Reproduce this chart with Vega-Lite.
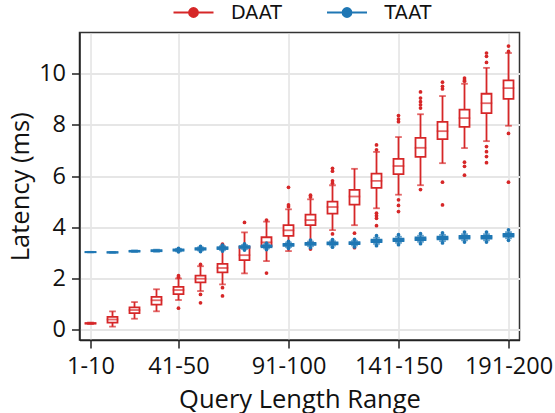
{
  "$schema": "https://vega.github.io/schema/vega-lite/v6.json",
  "width": 440,
  "height": 307.5,
  "autosize": {"type": "none"},
  "padding": {"left": 79.5, "top": 32.5, "right": 35.5, "bottom": 73},
  "background": "white",
  "config": {
    "view": {"stroke": "#333333", "strokeWidth": 1.5},
    "axis": {
      "labelFont": "Open Sans", "titleFont": "Open Sans",
      "labelFontSize": 23.5, "titleFontSize": 25.5, "titleFontWeight": "normal",
      "labelColor": "#111111", "titleColor": "#111111",
      "tickColor": "#222222", "tickSize": 8, "tickWidth": 1.5,
      "domainColor": "#222222", "domainWidth": 1.5, "labelPadding": 6
    },
    "legend": {
      "labelFont": "DejaVu Sans", "labelFontSize": 19, "labelColor": "#111111"
    }
  },
  "datasets": {
    "boxes": [
      {"range": "1-10", "method": "DAAT", "lower": 0.22, "q1": 0.24, "median": 0.25, "q3": 0.26, "upper": 0.28},
      {"range": "11-20", "method": "DAAT", "lower": 0.12, "q1": 0.28, "median": 0.40, "q3": 0.50, "upper": 0.72},
      {"range": "21-30", "method": "DAAT", "lower": 0.43, "q1": 0.65, "median": 0.77, "q3": 0.87, "upper": 1.08},
      {"range": "31-40", "method": "DAAT", "lower": 0.72, "q1": 0.98, "median": 1.15, "q3": 1.28, "upper": 1.58},
      {"range": "41-50", "method": "DAAT", "lower": 1.16, "q1": 1.39, "median": 1.55, "q3": 1.67, "upper": 2.00},
      {"range": "51-60", "method": "DAAT", "lower": 1.51, "q1": 1.85, "median": 1.99, "q3": 2.11, "upper": 2.48},
      {"range": "61-70", "method": "DAAT", "lower": 1.77, "q1": 2.24, "median": 2.41, "q3": 2.57, "upper": 3.22},
      {"range": "71-80", "method": "DAAT", "lower": 2.20, "q1": 2.72, "median": 2.91, "q3": 3.23, "upper": 3.80},
      {"range": "81-90", "method": "DAAT", "lower": 2.68, "q1": 3.26, "median": 3.41, "q3": 3.61, "upper": 4.22},
      {"range": "91-100", "method": "DAAT", "lower": 3.07, "q1": 3.66, "median": 3.88, "q3": 4.08, "upper": 4.70},
      {"range": "101-110", "method": "DAAT", "lower": 3.40, "q1": 4.08, "median": 4.28, "q3": 4.49, "upper": 5.09},
      {"range": "111-120", "method": "DAAT", "lower": 3.89, "q1": 4.53, "median": 4.79, "q3": 5.00, "upper": 5.64},
      {"range": "121-130", "method": "DAAT", "lower": 4.08, "q1": 4.88, "median": 5.20, "q3": 5.46, "upper": 6.28},
      {"range": "131-140", "method": "DAAT", "lower": 4.74, "q1": 5.54, "median": 5.81, "q3": 6.09, "upper": 6.94},
      {"range": "141-150", "method": "DAAT", "lower": 5.27, "q1": 6.07, "median": 6.39, "q3": 6.67, "upper": 7.52},
      {"range": "151-160", "method": "DAAT", "lower": 5.64, "q1": 6.75, "median": 7.10, "q3": 7.49, "upper": 8.41},
      {"range": "161-170", "method": "DAAT", "lower": 6.50, "q1": 7.44, "median": 7.75, "q3": 8.11, "upper": 9.12},
      {"range": "171-180", "method": "DAAT", "lower": 7.09, "q1": 7.92, "median": 8.26, "q3": 8.59, "upper": 9.60},
      {"range": "181-190", "method": "DAAT", "lower": 7.36, "q1": 8.45, "median": 8.84, "q3": 9.21, "upper": 10.22},
      {"range": "191-200", "method": "DAAT", "lower": 7.96, "q1": 9.01, "median": 9.43, "q3": 9.73, "upper": 10.80},
      {"range": "1-10", "method": "TAAT", "lower": 3.02, "q1": 3.025, "median": 3.03, "q3": 3.035, "upper": 3.04},
      {"range": "11-20", "method": "TAAT", "lower": 3.0, "q1": 3.01, "median": 3.02, "q3": 3.03, "upper": 3.04},
      {"range": "21-30", "method": "TAAT", "lower": 3.035, "q1": 3.05, "median": 3.065, "q3": 3.08, "upper": 3.095},
      {"range": "31-40", "method": "TAAT", "lower": 3.045, "q1": 3.065, "median": 3.085, "q3": 3.105, "upper": 3.125},
      {"range": "41-50", "method": "TAAT", "lower": 3.06, "q1": 3.085, "median": 3.11, "q3": 3.135, "upper": 3.16},
      {"range": "51-60", "method": "TAAT", "lower": 3.095, "q1": 3.125, "median": 3.155, "q3": 3.185, "upper": 3.215},
      {"range": "61-70", "method": "TAAT", "lower": 3.105, "q1": 3.15, "median": 3.185, "q3": 3.22, "upper": 3.265},
      {"range": "71-80", "method": "TAAT", "lower": 3.15, "q1": 3.195, "median": 3.23, "q3": 3.265, "upper": 3.31},
      {"range": "81-90", "method": "TAAT", "lower": 3.175, "q1": 3.22, "median": 3.255, "q3": 3.29, "upper": 3.335},
      {"range": "91-100", "method": "TAAT", "lower": 3.225, "q1": 3.275, "median": 3.315, "q3": 3.355, "upper": 3.405},
      {"range": "101-110", "method": "TAAT", "lower": 3.26, "q1": 3.31, "median": 3.35, "q3": 3.39, "upper": 3.44},
      {"range": "111-120", "method": "TAAT", "lower": 3.28, "q1": 3.33, "median": 3.37, "q3": 3.41, "upper": 3.46},
      {"range": "121-130", "method": "TAAT", "lower": 3.29, "q1": 3.34, "median": 3.38, "q3": 3.42, "upper": 3.47},
      {"range": "131-140", "method": "TAAT", "lower": 3.35, "q1": 3.42, "median": 3.47, "q3": 3.52, "upper": 3.59},
      {"range": "141-150", "method": "TAAT", "lower": 3.39, "q1": 3.46, "median": 3.51, "q3": 3.56, "upper": 3.63},
      {"range": "151-160", "method": "TAAT", "lower": 3.43, "q1": 3.50, "median": 3.55, "q3": 3.60, "upper": 3.67},
      {"range": "161-170", "method": "TAAT", "lower": 3.46, "q1": 3.53, "median": 3.58, "q3": 3.63, "upper": 3.70},
      {"range": "171-180", "method": "TAAT", "lower": 3.49, "q1": 3.56, "median": 3.61, "q3": 3.66, "upper": 3.73},
      {"range": "181-190", "method": "TAAT", "lower": 3.49, "q1": 3.56, "median": 3.61, "q3": 3.66, "upper": 3.73},
      {"range": "191-200", "method": "TAAT", "lower": 3.57, "q1": 3.64, "median": 3.69, "q3": 3.74, "upper": 3.81}
    ],
    "outliers": [
      {"range": "41-50", "method": "DAAT", "value": 2.05},
      {"range": "41-50", "method": "DAAT", "value": 2.11},
      {"range": "41-50", "method": "DAAT", "value": 0.84},
      {"range": "51-60", "method": "DAAT", "value": 2.55},
      {"range": "51-60", "method": "DAAT", "value": 1.38},
      {"range": "51-60", "method": "DAAT", "value": 1.05},
      {"range": "61-70", "method": "DAAT", "value": 3.28},
      {"range": "61-70", "method": "DAAT", "value": 3.34},
      {"range": "61-70", "method": "DAAT", "value": 1.64},
      {"range": "61-70", "method": "DAAT", "value": 1.32},
      {"range": "71-80", "method": "DAAT", "value": 4.19},
      {"range": "81-90", "method": "DAAT", "value": 4.28},
      {"range": "81-90", "method": "DAAT", "value": 2.21},
      {"range": "91-100", "method": "DAAT", "value": 4.80},
      {"range": "91-100", "method": "DAAT", "value": 4.87},
      {"range": "91-100", "method": "DAAT", "value": 5.56},
      {"range": "101-110", "method": "DAAT", "value": 5.18},
      {"range": "101-110", "method": "DAAT", "value": 5.25},
      {"range": "101-110", "method": "DAAT", "value": 3.15},
      {"range": "111-120", "method": "DAAT", "value": 5.72},
      {"range": "111-120", "method": "DAAT", "value": 5.81},
      {"range": "111-120", "method": "DAAT", "value": 6.19},
      {"range": "111-120", "method": "DAAT", "value": 6.30},
      {"range": "111-120", "method": "DAAT", "value": 3.74},
      {"range": "111-120", "method": "DAAT", "value": 3.40},
      {"range": "121-130", "method": "DAAT", "value": 3.77},
      {"range": "121-130", "method": "DAAT", "value": 3.20},
      {"range": "131-140", "method": "DAAT", "value": 7.21},
      {"range": "131-140", "method": "DAAT", "value": 7.02},
      {"range": "131-140", "method": "DAAT", "value": 4.55},
      {"range": "131-140", "method": "DAAT", "value": 4.45},
      {"range": "131-140", "method": "DAAT", "value": 4.35},
      {"range": "131-140", "method": "DAAT", "value": 4.06},
      {"range": "141-150", "method": "DAAT", "value": 8.36},
      {"range": "141-150", "method": "DAAT", "value": 8.22},
      {"range": "141-150", "method": "DAAT", "value": 8.12},
      {"range": "141-150", "method": "DAAT", "value": 5.07},
      {"range": "141-150", "method": "DAAT", "value": 4.85},
      {"range": "141-150", "method": "DAAT", "value": 4.61},
      {"range": "151-160", "method": "DAAT", "value": 9.28},
      {"range": "151-160", "method": "DAAT", "value": 9.04},
      {"range": "151-160", "method": "DAAT", "value": 8.90},
      {"range": "151-160", "method": "DAAT", "value": 8.78},
      {"range": "151-160", "method": "DAAT", "value": 8.65},
      {"range": "151-160", "method": "DAAT", "value": 5.47},
      {"range": "161-170", "method": "DAAT", "value": 9.66},
      {"range": "161-170", "method": "DAAT", "value": 9.50},
      {"range": "161-170", "method": "DAAT", "value": 9.40},
      {"range": "161-170", "method": "DAAT", "value": 5.76},
      {"range": "161-170", "method": "DAAT", "value": 4.87},
      {"range": "171-180", "method": "DAAT", "value": 9.82},
      {"range": "171-180", "method": "DAAT", "value": 9.75},
      {"range": "171-180", "method": "DAAT", "value": 9.70},
      {"range": "171-180", "method": "DAAT", "value": 6.54},
      {"range": "171-180", "method": "DAAT", "value": 6.38},
      {"range": "171-180", "method": "DAAT", "value": 6.03},
      {"range": "181-190", "method": "DAAT", "value": 10.80},
      {"range": "181-190", "method": "DAAT", "value": 10.67},
      {"range": "181-190", "method": "DAAT", "value": 10.43},
      {"range": "181-190", "method": "DAAT", "value": 7.15},
      {"range": "181-190", "method": "DAAT", "value": 6.95},
      {"range": "181-190", "method": "DAAT", "value": 6.76},
      {"range": "181-190", "method": "DAAT", "value": 6.52},
      {"range": "191-200", "method": "DAAT", "value": 11.07},
      {"range": "191-200", "method": "DAAT", "value": 10.86},
      {"range": "191-200", "method": "DAAT", "value": 7.66},
      {"range": "191-200", "method": "DAAT", "value": 5.76},
      {"range": "41-50", "method": "TAAT", "value": 3.04},
      {"range": "41-50", "method": "TAAT", "value": 3.18},
      {"range": "51-60", "method": "TAAT", "value": 3.05},
      {"range": "51-60", "method": "TAAT", "value": 3.25},
      {"range": "61-70", "method": "TAAT", "value": 3.07},
      {"range": "61-70", "method": "TAAT", "value": 3.30},
      {"range": "71-80", "method": "TAAT", "value": 3.11},
      {"range": "71-80", "method": "TAAT", "value": 3.35},
      {"range": "81-90", "method": "TAAT", "value": 3.13},
      {"range": "81-90", "method": "TAAT", "value": 3.38},
      {"range": "91-100", "method": "TAAT", "value": 3.18},
      {"range": "91-100", "method": "TAAT", "value": 3.45},
      {"range": "101-110", "method": "TAAT", "value": 3.20},
      {"range": "101-110", "method": "TAAT", "value": 3.50},
      {"range": "111-120", "method": "TAAT", "value": 3.22},
      {"range": "111-120", "method": "TAAT", "value": 3.52},
      {"range": "121-130", "method": "TAAT", "value": 3.23},
      {"range": "121-130", "method": "TAAT", "value": 3.53},
      {"range": "131-140", "method": "TAAT", "value": 3.28},
      {"range": "131-140", "method": "TAAT", "value": 3.67},
      {"range": "141-150", "method": "TAAT", "value": 3.32},
      {"range": "141-150", "method": "TAAT", "value": 3.71},
      {"range": "151-160", "method": "TAAT", "value": 3.36},
      {"range": "151-160", "method": "TAAT", "value": 3.75},
      {"range": "161-170", "method": "TAAT", "value": 3.39},
      {"range": "161-170", "method": "TAAT", "value": 3.78},
      {"range": "171-180", "method": "TAAT", "value": 3.42},
      {"range": "171-180", "method": "TAAT", "value": 3.81},
      {"range": "181-190", "method": "TAAT", "value": 3.42},
      {"range": "181-190", "method": "TAAT", "value": 3.81},
      {"range": "191-200", "method": "TAAT", "value": 3.49},
      {"range": "191-200", "method": "TAAT", "value": 3.90}
    ]
  },
  "encoding": {
    "x": {
      "field": "range", "type": "ordinal",
      "scale": {"type": "point", "padding": 0.5, "domain": ["1-10","11-20","21-30","31-40","41-50","51-60","61-70","71-80","81-90","91-100","101-110","111-120","121-130","131-140","141-150","151-160","161-170","171-180","181-190","191-200"]},
      "axis": {"values": ["1-10","41-50","91-100","141-150","191-200"], "labelAngle": 0, "grid": true, "gridColor": "#d4d4d4", "gridWidth": 1, "title": "Query Length Range", "titlePadding": 10}
    },
    "color": {
      "field": "method", "type": "nominal",
      "scale": {"domain": ["DAAT", "TAAT"], "range": ["#d62728", "#1f77b4"]},
      "legend": {
        "title": null, "orient": "none", "direction": "horizontal",
        "legendX": 93, "legendY": -41,
        "symbolType": "M-1,0L1,0M0.22,0A0.22,0.22,0,1,1,-0.22,0A0.22,0.22,0,1,1,0.22,0Z",
        "symbolSize": 1600, "labelOffset": 16.5, "columnPadding": 40.5, "symbolStrokeWidth": 2,
        "encode": {"symbols": {"update": {"fill": {"scale": "color", "field": "value"}, "stroke": {"scale": "color", "field": "value"}, "strokeWidth": {"value": 2}, "opacity": {"value": 1}}}}
      }
    }
  },
  "layer": [
    {"data": {"name": "boxes"}, "transform": [{"filter": "datum.method === 'DAAT'"}],
     "mark": {"type": "rule", "strokeWidth": 1.8},
     "encoding": {"y": {"field": "lower", "type": "quantitative", "scale": {"domain": [-0.4, 11.6], "nice": false, "zero": false},
       "axis": {"values": [0,2,4,6,8,10], "grid": true, "gridColor": "#e6e6e6", "gridWidth": 2, "title": "Latency (ms)", "titlePadding": 5}}, "y2": {"field": "upper"}}},
    {"data": {"name": "boxes"}, "transform": [{"filter": "datum.method === 'DAAT'"}],
     "mark": {"type": "tick", "size": 6.7, "thickness": 1.8}, "encoding": {"y": {"field": "lower", "type": "quantitative"}}},
    {"data": {"name": "boxes"}, "transform": [{"filter": "datum.method === 'DAAT'"}],
     "mark": {"type": "tick", "size": 6.7, "thickness": 1.8}, "encoding": {"y": {"field": "upper", "type": "quantitative"}}},
    {"data": {"name": "boxes"}, "transform": [{"filter": "datum.method === 'DAAT'"}],
     "mark": {"type": "bar", "size": 10, "fill": "white", "strokeWidth": 1.8},
     "encoding": {"y": {"field": "q1", "type": "quantitative"}, "y2": {"field": "q3"}, "stroke": {"field": "method", "type": "nominal", "scale": {"domain": ["DAAT", "TAAT"], "range": ["#d62728", "#1f77b4"]}, "legend": null}}},
    {"data": {"name": "boxes"}, "transform": [{"filter": "datum.method === 'DAAT'"}],
     "mark": {"type": "tick", "size": 11.5, "thickness": 1.8}, "encoding": {"y": {"field": "median", "type": "quantitative"}}},
    {"data": {"name": "outliers"}, "transform": [{"filter": "datum.method === 'DAAT'"}],
     "mark": {"type": "point", "filled": true, "size": 14, "opacity": 1, "shape": "circle"}, "encoding": {"y": {"field": "value", "type": "quantitative"}}},
    {"data": {"name": "boxes"}, "transform": [{"filter": "datum.method === 'TAAT'"}],
     "mark": {"type": "rule", "strokeWidth": 1.8},
     "encoding": {"y": {"field": "lower", "type": "quantitative"}, "y2": {"field": "upper"}}},
    {"data": {"name": "boxes"}, "transform": [{"filter": "datum.method === 'TAAT'"}],
     "mark": {"type": "tick", "size": 6.7, "thickness": 1.8}, "encoding": {"y": {"field": "lower", "type": "quantitative"}}},
    {"data": {"name": "boxes"}, "transform": [{"filter": "datum.method === 'TAAT'"}],
     "mark": {"type": "tick", "size": 6.7, "thickness": 1.8}, "encoding": {"y": {"field": "upper", "type": "quantitative"}}},
    {"data": {"name": "boxes"}, "transform": [{"filter": "datum.method === 'TAAT'"}],
     "mark": {"type": "bar", "size": 10, "fill": "#1f77b4", "strokeWidth": 1.8},
     "encoding": {"y": {"field": "q1", "type": "quantitative"}, "y2": {"field": "q3"}, "stroke": {"field": "method", "type": "nominal", "legend": null}}},
    {"data": {"name": "boxes"}, "transform": [{"filter": "datum.method === 'TAAT'"}],
     "mark": {"type": "tick", "size": 11.5, "thickness": 1.8}, "encoding": {"y": {"field": "median", "type": "quantitative"}}},
    {"data": {"name": "outliers"}, "transform": [{"filter": "datum.method === 'TAAT'"}],
     "mark": {"type": "point", "filled": true, "size": 14, "opacity": 1, "shape": "circle"}, "encoding": {"y": {"field": "value", "type": "quantitative"}}}
  ]
}
